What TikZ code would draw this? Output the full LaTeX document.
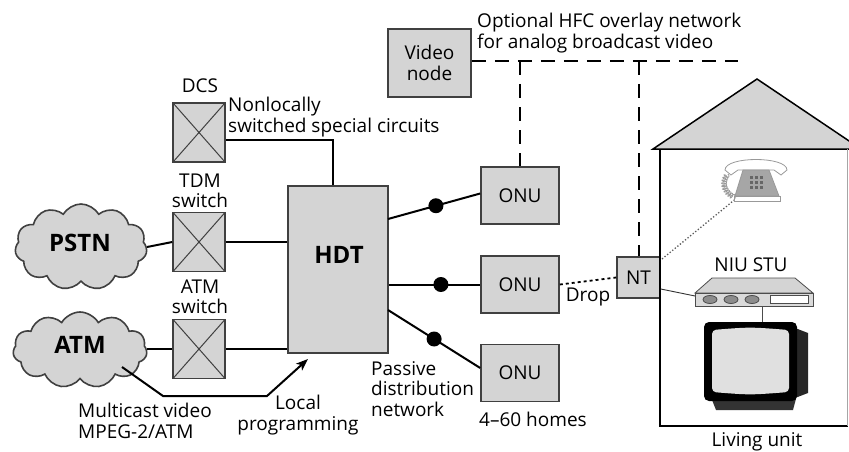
\documentclass[tikz,border=0pt]{standalone}
\usepackage{fontspec}
\setmainfont{Open Sans}
\usetikzlibrary{shapes.symbols,arrows.meta,decorations.pathmorphing}
\definecolor{boxgray}{gray}{0.83}
\definecolor{linegray}{gray}{0.25}

\begin{document}
\begin{tikzpicture}[x=1pt,y=-1pt,
  lbl/.style={font=\fontsize{19}{20.5}\selectfont, inner sep=0pt, align=center},
  lblleft/.style={lbl, align=left},
  bigbold/.style={font=\fontsize{24}{26}\selectfont\bfseries, inner sep=0pt},
  box/.style={draw=linegray, line width=1.6pt, fill=boxgray, inner sep=0pt, font=\fontsize{19}{20.5}\selectfont, align=center},
  xbox/.style={box, minimum width=52pt, minimum height=59pt,
    path picture={\draw[line width=1pt, linegray]
      (path picture bounding box.north west) -- (path picture bounding box.south east)
      (path picture bounding box.north east) -- (path picture bounding box.south west);}},
  onubox/.style={box, minimum width=78pt, minimum height=57pt},
  netcloud/.style={cloud, cloud puffs=11, cloud puff arc=120, draw=linegray, line width=1.6pt, fill=boxgray, inner sep=0pt},
  wire/.style={line width=2pt, black},
  hfc/.style={line width=2pt, black, dash pattern=on 14pt off 9pt},
  dropline/.style={line width=1.8pt, black, dash pattern=on 3pt off 3pt},
  splitter/.style={circle, fill=black, minimum size=15pt, inner sep=0pt}
]
\useasboundingbox (0,0) rectangle (849,452);
\clip (0,0) rectangle (849,452);

% ---- networks and switches ----
\node[netcloud, minimum width=132pt, minimum height=86pt] (pstn) at (81,247) {};
\node[bigbold] at (80,243) {PSTN};
\node[netcloud, minimum width=134pt, minimum height=76pt] (atmnet) at (80,350) {};
\node[bigbold] at (80,345) {ATM};

\node[xbox] (dcs) at (199,132.5) {};
\node[xbox] (tdm) at (199,242) {};
\node[xbox] (atmsw) at (199,349) {};
\node[lbl] (dcslbl) at (200,86) {DCS};
\node[lbl] (tdmlbl) at (200,191) {TDM\\switch};
\node[lbl] (atmlbl) at (200,297) {ATM\\switch};
\node[lblleft, anchor=west] (ncirc) at (228,117) {Nonlocally\\switched special circuits};

% ---- head-end terminal ----
\node[box, minimum width=100pt, minimum height=167pt] (hdt) at (338,269.5) {};
\node[bigbold] (hdtlbl) at (339,255) {HDT};

\coordinate (dcsrow) at (0,140);
\coordinate (hdtin) at (333,0);
\draw[wire] (dcs.east |- dcsrow) -| (hdt.north -| hdtin);
\draw[wire] (pstn.east) -- (tdm.west);
\draw[wire] (tdm.east) -- (hdt.west |- tdm.east);
\draw[wire] (atmnet.east |- atmsw.west) -- (atmsw.west);
\draw[wire] (atmsw.east) -- (hdt.west |- atmsw.east);

% multicast video path into the HDT
\coordinate (mc0) at (122,367);
\coordinate (mc1) at (163,396);
\coordinate (mc2) at (267,396);
\coordinate (mc3) at (308,359);
\draw[wire, -{Stealth[length=12pt,width=9pt,inset=3pt]}] (mc0) -- (mc1) -- (mc2) -- (mc3);
\node[lblleft, anchor=west] (mclbl) at (78,421) {Multicast video\\MPEG-2/ATM};
\node[lbl] (lplbl) at (298,415) {Local\\programming};

% ---- passive distribution network ----
\node[onubox] (onu1) at (520,195.5) {ONU};
\node[onubox] (onu2) at (520,284.5) {ONU};
\node[onubox] (onu3) at (520,373) {ONU};
\coordinate (h1) at (388,219);
\coordinate (h3) at (388,310);
\draw[wire] (h1) -- node[splitter, pos=0.52] (s1) {} ([yshift=2pt]onu1.west);
\draw[wire] (hdt.east |- onu2.west) -- node[splitter, pos=0.57] (s2) {} (onu2.west);
\draw[wire] (h3) -- node[splitter, pos=0.5] (s3) {} ([yshift=5pt]onu3.west);
\node[lblleft, anchor=west] (pdn) at (371,389) {Passive\\distribution\\network};
\node[lbl, anchor=west] (homes) at (479,419) {4--60 homes};

% ---- optional HFC overlay ----
\node[box, minimum width=83pt, minimum height=68pt] (vnode) at (429.5,63) {Video\\node};
\node[lblleft, anchor=west] (hfclbl) at (477,33) {Optional HFC overlay network\\for analog broadcast video};
\node[box, minimum width=43pt, minimum height=41pt] (nt) at (638.5,277.5) {NT};
\coordinate (hfcend) at (738,61);
\draw[hfc] (vnode.east |- hfcend) -- (hfcend);
\draw[hfc] (onu1.north |- hfcend) -- (onu1.north);
\draw[hfc] (nt.north |- hfcend) -- (nt.north);

\draw[dropline] (onu2.east) -- node[lbl, below=6pt] (droplbl) {Drop} (nt.west);

% ---- living unit ----
\draw[line width=1.5pt, fill=boxgray] (653,149) -- (757,79) -- (861,149) -- cycle;
\draw[line width=1.5pt] (660,149) -- (660,426) -- (848,426);
\draw[line width=1pt, black!35] (847,149) -- (847,426);
\node[lbl] (livlbl) at (757,442) {Living unit};

% telephone
\coordinate (phone) at (757,180);
\draw[line width=1.3pt, dotted, black!65] (662,259) -- (738,197);
\begin{scope}[shift={(phone)}, line width=0.8pt, draw=black!40]
  \draw[fill=white] (-32,-10) .. controls (-32,-24) and (30,-24) .. (30,-10)
        -- (24,-5) -- (17,-10) -- (-19,-10) -- (-26,-5) -- cycle;
  \draw[fill=black!35] (-14,-10) -- (12,-10) -- (22,16) -- (-22,16) -- cycle;
  \draw[fill=white] (-23,16) rectangle (23,21);
  \foreach \i in {-6,-1,4} \foreach \j in {-3,2,7}
    \fill[black!60] (\i-1.5,\j-1.5) rectangle (\i+1.5,\j+1.5);
  \draw[decorate, decoration={coil, aspect=0.5, segment length=2.5pt, amplitude=2.5pt}]
    (-29,-6) .. controls (-37,4) and (-31,14) .. (-21,18);
\end{scope}

% set-top box with network interface unit
\node[lbl] (stulbl) at (751,265) {NIU STU};
\draw[line width=0.8pt, black!70, fill=boxgray] (695,293) -- (712,278) -- (795,278) -- (813,293) -- cycle;
\draw[line width=0.8pt, black!70, fill=boxgray!85!white] (695,293) rectangle (813,306);
\foreach \x in {710,731,752}
  \draw[line width=0.8pt, black!70, fill=black!45] (\x,299.5) ellipse [x radius=7, y radius=4];
\draw[line width=0.8pt, black!70, fill=white] (770,295) rectangle (808,303);
\draw[line width=0.9pt, black!80] (nt.east |- 0,289) -- (695,296);
\draw[line width=1pt, black!70] (762,306) -- (762,322);

% television
\fill[black!80] (710,395) -- (797,395) -- (793,410) -- (716,410) -- cycle;
\fill[black!85] (795,328) -- (808,333) -- (808,393) -- (795,398) -- cycle;
\fill[black, rounded corners=5pt] (704,322) rectangle (797,401);
\fill[black!12, rounded corners=4pt] (712,330) .. controls (750,327) .. (789,330)
  -- (789,392) .. controls (750,395) .. (712,392) -- cycle;
\end{tikzpicture}
\end{document}
